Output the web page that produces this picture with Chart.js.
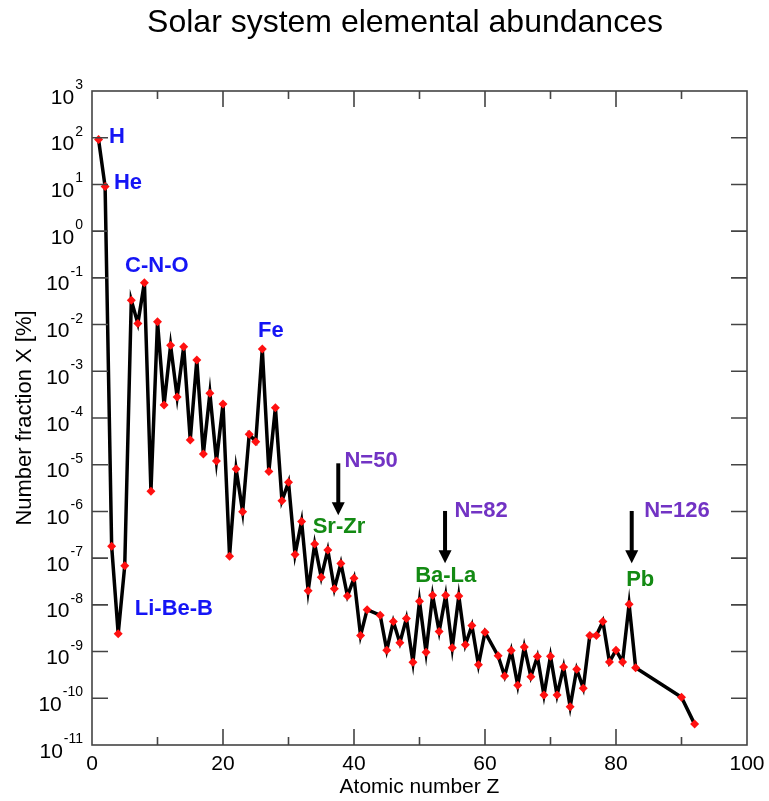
<!DOCTYPE html>
<html><head><meta charset="utf-8">
<script src="https://cdn.jsdelivr.net/npm/chart.js@4.4.1/dist/chart.umd.min.js"></script>
<style>html,body{margin:0;padding:0;background:#fff}#wrap{width:769px;height:801px;position:relative}</style>
</head><body><div id="wrap"><canvas id="c" width="769" height="801"></canvas></div>
<script>
// ---- data ----
const atomicNumbers = [1,2,3,4,5,6,7,8,9,10,11,12,13,14,15,16,17,18,19,20,
  21,22,23,24,25,26,27,28,29,30,31,32,33,34,35,36,37,38,39,40,41,42,44,45,46,47,48,49,50,
  51,52,53,54,55,56,57,58,59,60,62,63,64,65,66,67,68,69,70,71,72,73,74,75,76,77,78,79,80,
  81,82,83,90,92];
const abundances = [92,9.0,1.8e-7,2.4e-9,6.9e-8,3.3e-2,1.06e-2,7.9e-2,2.7e-6,1.15e-2,
  1.9e-4,3.6e-3,2.8e-4,3.35e-3,3.4e-5,1.74e-3,1.7e-5,3.4e-4,1.2e-5,2.0e-4,
  1.1e-7,8.1e-6,9.8e-7,4.5e-5,3.1e-5,3.0e-3,7.2e-6,1.66e-4,1.7e-6,4.2e-6,
  1.2e-7,6.1e-7,2.0e-8,2.0e-7,3.9e-8,1.5e-7,2.2e-8,7.7e-8,1.55e-8,3.7e-8,
  2.2e-9,7.9e-9,6.0e-9,1.07e-9,4.4e-9,1.55e-9,5.1e-9,5.9e-10,1.2e-8,
  9.7e-10,1.6e-8,2.7e-9,1.6e-8,1.2e-9,1.55e-8,1.4e-9,3.6e-9,5.2e-10,2.6e-9,
  8.1e-10,3.0e-10,1.05e-9,1.9e-10,1.26e-9,2.9e-10,7.8e-10,1.17e-10,7.9e-10,1.17e-10,
  4.7e-10,6.6e-11,4.2e-10,1.65e-10,2.2e-9,2.2e-9,4.4e-9,6.0e-10,1.07e-9,
  6.0e-10,1.03e-8,4.5e-10,1.05e-10,2.8e-11];
const xTickValues = [0,20,40,60,80,100];
const yExponents = [3,2,1,0,-1,-2,-3,-4,-5,-6,-7,-8,-9,-10,-11];
const labelTexts  = ['H','He','C-N-O','Fe','Li-Be-B','Sr-Zr','Ba-La','Pb','N=50','N=82','N=126'];
const labelZ      = [3.8,5.5,9.9,27.3,12.5,37.7,54.0,83.7,42.6,59.4,89.3];
const labelLogX   = [2.015,1.03,-0.75,-2.14,-8.09,-6.34,-7.39,-7.47,-4.92,-5.99,-5.99];
const labelKinds  = ['el','el','el','el','el','mag','mag','mag','shell','shell','shell'];
const arrowZ      = [37.6,53.9,82.4];
const arrowFromLog= [-4.97,-5.99,-5.99];
const arrowToLog  = [-6.08,-7.11,-7.11];

const FONT = '"Liberation Sans", Arial, Helvetica, sans-serif';
const kindColors = {el:'#1515f5', mag:'#138a13', shell:'#7233c4'};

const framePlugin = {
  id:'frame',
  afterDatasetsDraw(chart){
    const {ctx, chartArea:a, scales:{x,y}} = chart;
    ctx.save();
    ctx.strokeStyle = '#444'; ctx.lineWidth = 1.6;
    ctx.strokeRect(a.left, a.top, a.right-a.left, a.bottom-a.top);
    ctx.beginPath();
    for (let v=10; v<100; v+=10){
      const px = x.getPixelForValue(v), len = (v%20===0)?16:8;
      ctx.moveTo(px,a.bottom); ctx.lineTo(px,a.bottom-len);
      ctx.moveTo(px,a.top); ctx.lineTo(px,a.top+len);
    }
    yExponents.forEach(e=>{
      if (e===3||e===-11) return;
      const py = y.getPixelForValue(Math.pow(10,e));
      ctx.moveTo(a.left,py); ctx.lineTo(a.left+16,py);
      ctx.moveTo(a.right,py); ctx.lineTo(a.right-16,py);
    });
    ctx.stroke();
    // annotations
    ctx.textAlign='center'; ctx.textBaseline='middle';
    ctx.font = 'bold 22px '+FONT;
    labelTexts.forEach((t,i)=>{
      ctx.fillStyle = kindColors[labelKinds[i]];
      ctx.fillText(t, x.getPixelForValue(labelZ[i]), y.getPixelForValue(Math.pow(10,labelLogX[i])));
    });
    // arrows
    ctx.fillStyle='#000'; ctx.strokeStyle='#000';
    arrowZ.forEach((z,i)=>{
      const px = x.getPixelForValue(z);
      const y0 = y.getPixelForValue(Math.pow(10,arrowFromLog[i]));
      const y1 = y.getPixelForValue(Math.pow(10,arrowToLog[i]));
      ctx.lineWidth = 4;
      ctx.beginPath(); ctx.moveTo(px,y0); ctx.lineTo(px,y1-12); ctx.stroke();
      ctx.beginPath(); ctx.moveTo(px-6.5,y1-13); ctx.lineTo(px+6.5,y1-13); ctx.lineTo(px,y1); ctx.closePath(); ctx.fill();
    });
    ctx.restore();
  },
  afterDraw(chart){
    const {ctx, chartArea:a, scales:{y}} = chart;
    ctx.save();
    ctx.fillStyle='#000';
    ctx.textBaseline='alphabetic'; ctx.textAlign='left';
    yExponents.forEach(e=>{
      const py = y.getPixelForValue(Math.pow(10,e));
      const expStr = String(e);
      ctx.font = '14px '+FONT;
      const ew = ctx.measureText(expStr).width;
      ctx.font = '21px '+FONT;
      const bw = ctx.measureText('10').width;
      const right = a.left - 9;
      const bx = right - ew - bw - 1;
      ctx.fillText('10', bx, py+12.5);
      ctx.font = '14px '+FONT;
      ctx.fillText(expStr, bx+bw+1, py-2);
    });
    ctx.font = '32px '+FONT;
    ctx.textAlign='center';
    ctx.fillText('Solar system elemental abundances', 405, 32);
    ctx.restore();
  }
};

new Chart(document.getElementById('c'), {
  type:'line',
  data:{ datasets:[{
    data: atomicNumbers.map((z,i)=>({x:z, y:abundances[i]})),
    borderColor:'#000', borderWidth:3.5, tension:0,
    pointStyle:'rectRot', pointRadius:4.5, pointBackgroundColor:'#ff1010', pointBorderColor:'#ff1010', pointBorderWidth:0,
    clip:false
  }]},
  options:{
    responsive:false, devicePixelRatio:1, animation:false, events:[],
    layout:{padding:{top:91,right:22,left:0,bottom:0}},
    plugins:{legend:{display:false}, tooltip:{enabled:false}, title:{display:false}},
    scales:{
      x:{type:'linear', min:0, max:100, position:'bottom',
        afterBuildTicks: s => { s.ticks = xTickValues.map(v=>({value:v})); },
        ticks:{font:{size:21,family:FONT}, color:'#000', padding:-1, maxRotation:0, autoSkip:false},
        grid:{display:false}, border:{display:false},
        title:{display:true, text:'Atomic number Z', color:'#000', font:{size:21,family:FONT}, padding:{top:0,bottom:1}},
        afterFit: s => { s.height = 56; }
      },
      y:{type:'logarithmic', min:1e-11, max:1e3,
        ticks:{display:false}, grid:{display:false}, border:{display:false},
        title:{display:true, text:'Number fraction X [%]', color:'#000', font:{size:22,family:FONT}, padding:{top:12,bottom:0}},
        afterFit: s => { s.width = 92; }
      }
    }
  },
  plugins:[framePlugin]
});
</script></body></html>
